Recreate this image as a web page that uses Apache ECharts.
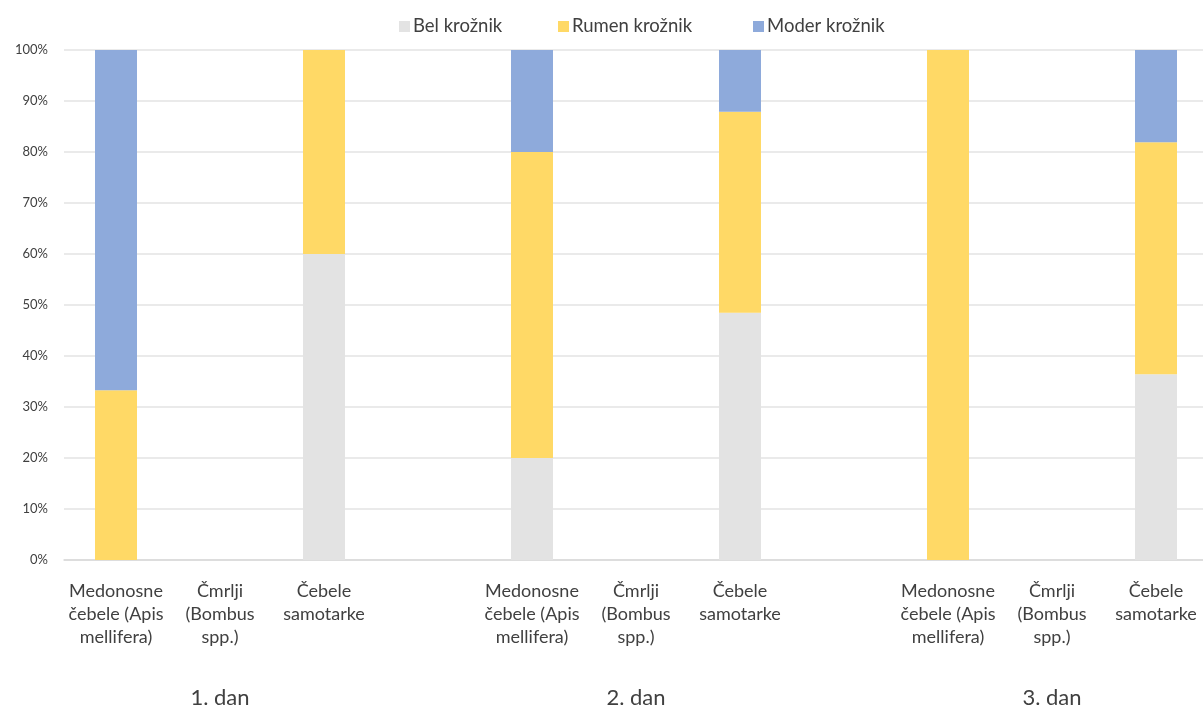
<!DOCTYPE html>
<html>
<head>
<meta charset="utf-8">
<script src="https://cdn.jsdelivr.net/npm/echarts@6/dist/echarts.min.js"></script>
<style>
  html, body { margin: 0; padding: 0; background: #ffffff; overflow: hidden; }
  #chart { width: 1212px; height: 713px; }
</style>
</head>
<body>
<div id="chart"></div>
<script>
// Bee groups per day; empty slots separate the three days
const categories = [
  'Medonosne\nčebele (Apis\nmellifera)', 'Čmrlji\n(Bombus\nspp.)', 'Čebele\nsamotarke', '',
  'Medonosne\nčebele (Apis\nmellifera)', 'Čmrlji\n(Bombus\nspp.)', 'Čebele\nsamotarke', '',
  'Medonosne\nčebele (Apis\nmellifera)', 'Čmrlji\n(Bombus\nspp.)', 'Čebele\nsamotarke'
];
const dayLabels = ['', '1. dan', '', '', '', '2. dan', '', '', '', '3. dan', ''];

// Share of visits per plate colour (%)
const belKroznik   = [0,    null, 60,   null, 20, null, 48.5, null, 0,   null, 36.4];
const rumenKroznik = [33.3, null, 40,   null, 60, null, 39.4, null, 100, null, 45.5];
const moderKroznik = [66.7, null, 0,    null, 20, null, 12.1, null, 0,   null, 18.2];

const yTicks = [0, 10, 20, 30, 40, 50, 60, 70, 80, 90, 100];

const font = 'Lato, "Liberation Sans", sans-serif';
const chart = echarts.init(document.getElementById('chart'));

const barSeries = (name, data, color) => ({
  name, type: 'bar', stack: 'total', data,
  barWidth: 42,
  itemStyle: { color },
  emphasis: { disabled: true }
});

const legendItem = (name, left) => ({
  top: 12, left,
  itemWidth: 11, itemHeight: 11, itemGap: 0,
  icon: 'rect',
  textStyle: { fontSize: 18.5, color: '#404040', fontFamily: font, padding: [0, 0, 0, -2] },
  data: [name]
});

chart.setOption({
  animation: false,
  textStyle: { fontFamily: font },
  legend: [
    legendItem('Bel krožnik', 394),
    legendItem('Rumen krožnik', 553),
    legendItem('Moder krožnik', 748)
  ],
  grid: { left: 64, top: 50, width: 1144, bottom: 153, containLabel: false },
  xAxis: [
    {
      type: 'category', data: categories,
      axisLine: { show: true, lineStyle: { color: '#d9d9d9', width: 1.5 } },
      axisTick: { show: false },
      axisLabel: {
        interval: 0, margin: 20, fontSize: 18, lineHeight: 23,
        color: '#404040', fontFamily: font
      }
    },
    {
      type: 'category', data: dayLabels, position: 'bottom', offset: 0,
      axisLine: { show: false }, axisTick: { show: false },
      axisLabel: {
        interval: 0, margin: 127, fontSize: 22,
        color: '#404040', fontFamily: font
      }
    }
  ],
  yAxis: {
    type: 'value', min: yTicks[0], max: yTicks[yTicks.length - 1], interval: 10,
    axisLine: { show: false }, axisTick: { show: false },
    axisLabel: { formatter: '{value}%', fontSize: 13, color: '#404040', margin: 16, fontFamily: font },
    splitLine: { lineStyle: { color: '#e3e3e3', width: 1.5 } }
  },
  series: [
    barSeries('Bel krožnik', belKroznik, '#e3e3e3'),
    barSeries('Rumen krožnik', rumenKroznik, '#ffd966'),
    barSeries('Moder krožnik', moderKroznik, '#8eaadb')
  ]
});
</script>
</body>
</html>
